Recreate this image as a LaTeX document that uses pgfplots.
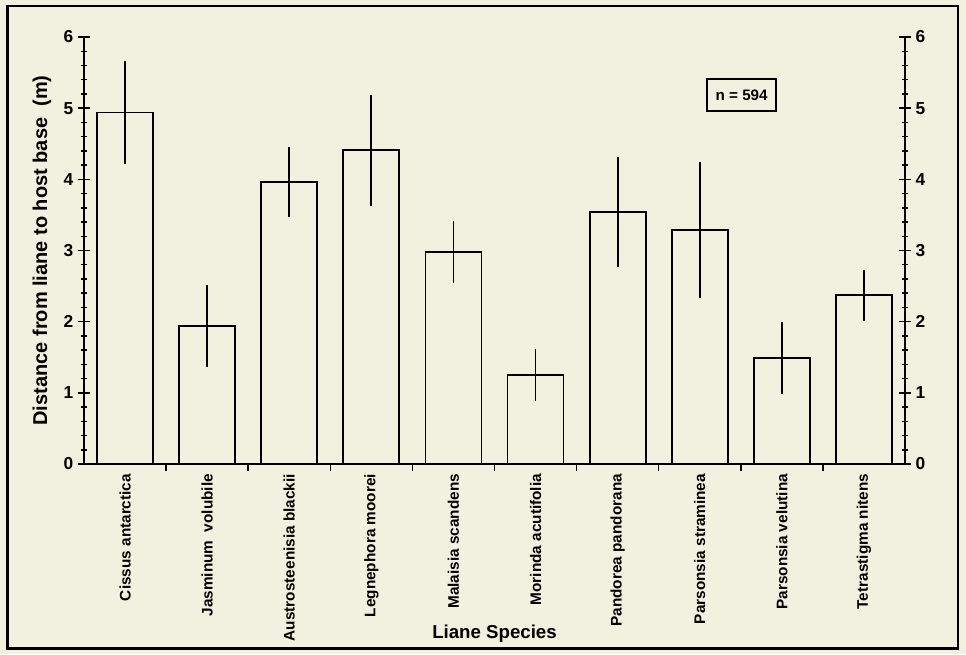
\documentclass[border=0pt]{standalone}
\usepackage{pgfplots}
\pgfplotsset{compat=1.18}
\usepackage{fontspec}
\setmainfont{Liberation Sans}
\definecolor{bg}{RGB}{241,241,223}
\pgfplotstableread{
x y e
0 4.94 0.72
1 1.94 0.57
2 3.96 0.49
3 4.41 0.78
4 2.98 0.43
5 1.25 0.37
6 3.54 0.77
7 3.29 0.96
8 1.49 0.51
9 2.37 0.36
}\datatable
\begin{document}
\begin{tikzpicture}
\fill[bg] (0,0) rectangle (724.5pt,490.5pt);
\useasboundingbox (0,0) rectangle (724.5pt,490.5pt);
\draw[line width=2.2pt] (5.5pt,4pt) rectangle (718.5pt,486pt);
\pgfplotsset{common/.style={
  at={(63pt,142.5pt)}, anchor=south west,
  scale only axis, width=615.75pt, height=320.25pt,
  xmin=-0.5, xmax=9.5, ymin=0, ymax=6,
  axis line style={line width=1.3pt},
  every tick/.style={line width=1.1pt, black},
  /pgf/number format/assume math mode=true,
}}
% main axis: bars and x axis
\begin{axis}[common,
  axis x line*=bottom, axis y line=none,
  tick align=outside,
  major tick length=0pt, minor tick length=5.5pt,
  xtick={0,...,9},
  minor xtick={0.5,1.5,...,8.5},
  xticklabels={Cissus antarctica, Jasminum\ \ volubile, Austrosteenisia blackii, Legnephora moorei, Malaisia scandens, Morinda acutifolia, Pandorea pandorana, Parsonsia straminea, Parsonsia velutina, Tetrastigma nitens},
  xticklabel style={rotate=90, anchor=east, font=\fontsize{11.5}{12}\selectfont\bfseries, yshift=0pt, xshift=-4pt},
  xlabel={Liane Species},
  every axis x label/.style={at={(axis description cs:0.5,0)}, yshift=-127pt, anchor=center, font=\fontsize{14}{16}\selectfont\bfseries},
  ybar, bar width=42pt, bar shift=0pt,
]
\addplot[draw=black, fill=bg, line width=1.3pt,
  error bars/.cd, y dir=both, y explicit, error mark=none,
  error bar style={line width=1.3pt, black}]
  table[x=x, y=y, y error=e] {\datatable};
\node[draw, line width=1.3pt, fill=bg, minimum width=51.75pt, minimum height=24pt, inner sep=0pt, font=\fontsize{11.4}{12}\selectfont\bfseries] at (axis cs:7.51,5.18) {n = 594};
\end{axis}
% left y axis
\begin{axis}[common,
  axis x line=none, axis y line*=left,
  tick align=center,
  major tick length=9pt, minor tick length=4.5pt,
  ytick={0,...,6}, minor y tick num=4,
  yticklabel style={font=\fontsize{13}{14}\selectfont\bfseries},
  ylabel={Distance from liane to host base\ \ (m)},
  every axis y label/.style={at={(axis description cs:0,0.5)}, xshift=-31.5pt, rotate=90, anchor=center, font=\fontsize{15}{18}\selectfont\bfseries},
]
\addplot[draw=none] coordinates {(0,0)};
\end{axis}
% right y axis
\begin{axis}[common,
  axis x line=none, axis y line*=right,
  tick align=center,
  major tick length=9pt, minor tick length=4.5pt,
  ytick={0,...,6}, minor y tick num=4,
  yticklabel style={font=\fontsize{13}{14}\selectfont\bfseries},
]
\addplot[draw=none] coordinates {(0,0)};
\end{axis}
\end{tikzpicture}
\end{document}
